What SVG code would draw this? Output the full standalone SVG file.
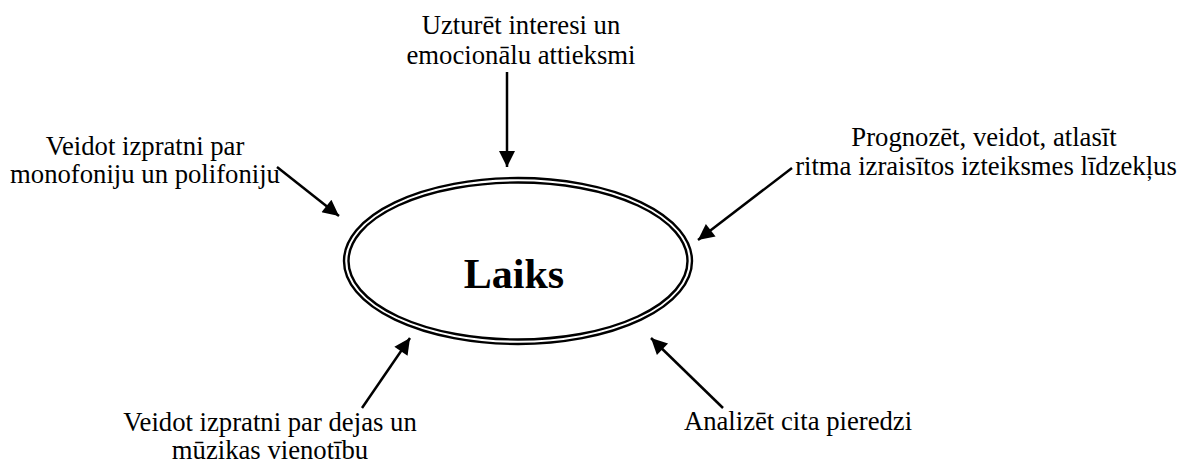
<svg xmlns="http://www.w3.org/2000/svg" width="1179" height="464" viewBox="0 0 1179 464">
  <style>
    .lbl { font-family: "Liberation Serif", "Times New Roman", serif; font-size: 26.7px; fill: #000; text-anchor: middle; }
    .title { font-family: "Liberation Serif", "Times New Roman", serif; font-size: 42px; font-weight: bold; fill: #000; text-anchor: middle; }
    .ring { fill: none; stroke: #000; stroke-width: 2.4; }
    .conn line { stroke: #000; stroke-width: 2.5; marker-end: url(#head); }
  </style>
  <defs>
    <marker id="head" viewBox="0 0 10 10" refX="10" refY="5" markerWidth="7.5" markerHeight="6.4" markerUnits="strokeWidth" orient="auto">
      <path d="M0,0 L10,5 L0,10 z" fill="#000"/>
    </marker>
  </defs>
  <rect width="1179" height="464" fill="#fff"/>

  <!-- central node: double-ringed ellipse -->
  <g id="laiks">
    <ellipse class="ring" cx="518" cy="261" rx="174" ry="83"/>
    <ellipse class="ring" cx="518" cy="261" rx="169.5" ry="78.5"/>
    <text class="title" x="514" y="288">Laiks</text>
  </g>

  <g id="interest">
    <text class="lbl" x="521" y="34">Uzturēt interesi un</text>
    <text class="lbl" x="521" y="64">emocionālu attieksmi</text>
  </g>

  <g id="mono-poly">
    <text class="lbl" x="145" y="155">Veidot izpratni par</text>
    <text class="lbl" x="145" y="183">monofoniju un polifoniju</text>
  </g>

  <g id="rhythm">
    <text class="lbl" x="984" y="146">Prognozēt, veidot, atlasīt</text>
    <text class="lbl" x="986" y="175">ritma izraisītos izteiksmes līdzekļus</text>
  </g>

  <g id="dance-music">
    <text class="lbl" x="270" y="431">Veidot izpratni par dejas un</text>
    <text class="lbl" x="270" y="459">mūzikas vienotību</text>
  </g>

  <g id="experience">
    <text class="lbl" x="798" y="430">Analizēt cita pieredzi</text>
  </g>

  <!-- connectors -->
  <g class="conn">
    <line x1="507" y1="72" x2="507" y2="167"/>
    <line x1="277" y1="167" x2="339" y2="216"/>
    <line x1="792" y1="168" x2="698" y2="240"/>
    <line x1="362" y1="408" x2="410" y2="338"/>
    <line x1="723" y1="408" x2="651" y2="338"/>
  </g>
</svg>
